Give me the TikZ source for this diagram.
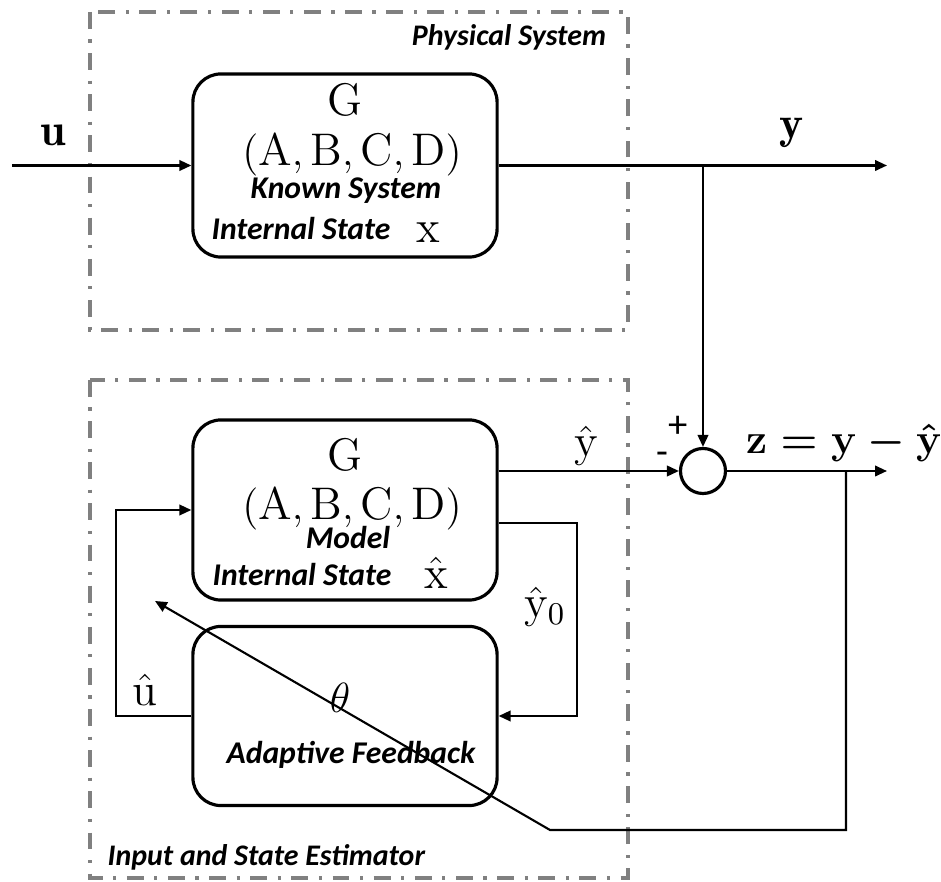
\documentclass[tikz,border=0pt]{standalone}
\usepackage{fontspec}
\newfontfamily\calibfont{Carlito}
\usetikzlibrary{arrows.meta,positioning,calc}

\begin{document}
\begin{tikzpicture}[
  x=0.01cm, y=-0.01cm,
  block/.style={draw, line width=0.9pt, rounded corners=0.28cm, minimum width=3.04cm, inner sep=0pt},
  frame/.style={draw=gray, line width=0.9pt, dash pattern=on 4.8pt off 3pt on 0.9pt off 3pt},
  sig/.style={line width=0.6pt, -{Triangle[length=3.4pt,width=3pt]}},
  mathlbl/.style={font=\fontsize{13}{15}\selectfont, inner sep=0pt},
  tag/.style={font=\calibfont\fontsize{9}{11}\selectfont\bfseries\itshape, inner sep=0pt},
  frametag/.style={font=\calibfont\fontsize{8.5}{10}\selectfont\bfseries\itshape, inner sep=0pt},
  signtag/.style={font=\calibfont\fontsize{11}{13}\selectfont, inner sep=0pt}
]
\useasboundingbox (0,0) rectangle (941,882);

% ---- Row positions (pixels from the top) ----
\def\yPlant{165.5}
\def\ySum{471}
\def\yModel{510}
\def\yAdapt{716}

% ---- Dash-dot frames ----
\draw[frame] (90,12) rectangle (628,330);
\node[frametag] (physlbl) at (509,37) {Physical System};
\draw[frame] (90,380) rectangle (628,878);
\node[frametag, anchor=west] (estlbl) at (107,857) {Input and State Estimator};

% ---- Blocks ----
\node[block, minimum height=1.83cm] (plant) at (345,\yPlant) {};
\node[block, minimum height=1.80cm] (model) at (345,\yModel) {};
\node[block, minimum height=1.79cm] (adapt) at (345,\yAdapt) {};
\node[draw, circle, line width=0.9pt, minimum size=0.45cm, inner sep=0pt] (sum) at (703,\ySum) {};

% ---- Block texts ----
\node[mathlbl] (plantG) at (345,100) {$\mathrm{G}$};
\node[mathlbl] (plantABCD) at (352,154) {$(\mathrm{A},\mathrm{B},\mathrm{C},\mathrm{D})$};
\node[tag] (plantname) at (346,191) {Known System};
\node[tag] (plantstate) at (301,229) {Internal State};
\node[mathlbl] (plantx) at (428,233) {$\mathrm{x}$};

\node[mathlbl] (modelG) at (345,455) {$\mathrm{G}$};
\node[mathlbl] (modelABCD) at (352,508) {$(\mathrm{A},\mathrm{B},\mathrm{C},\mathrm{D})$};
\node[tag] (modelname) at (348,538) {Model};
\node[tag] (modelstate) at (302,575) {Internal State};
\node[mathlbl] (modelx) at (436,573) {$\hat{\mathrm{x}}$};

\node[mathlbl] (theta) at (340,698) {$\theta$};
\node[tag] (adaptname) at (351,755) {Adaptive Feedback};

% ---- Signal ends and corners ----
\coordinate (uin) at (12,\yPlant);
\coordinate (yout) at (887,\yPlant);
\coordinate (ybr) at (sum |- plant.east);
\coordinate (zout) at (887,\ySum);
\coordinate (zbr) at (846,\ySum);
\coordinate (zknee) at (550,830);
\coordinate (ztip) at (155,601);
\coordinate (y0r) at (577,523);
\coordinate (ul) at (116,\yAdapt);

% ---- Physical system signals ----
\draw[sig] (uin) -- (plant.west);
\node[mathlbl] (ulbl) at (53,135) {$\mathbf{u}$};
\draw[sig] (plant.east) -- (yout);
\node[mathlbl] (ylbl) at (792,133) {$\mathbf{y}$};
\draw[sig] (ybr) -- (sum.north);
\node[signtag] (plus) at (678,427) {+};

% ---- Estimator signals ----
\draw[sig] (model.east |- sum.west) -- (sum.west);
\node[mathlbl] (yhatlbl) at (586,446) {$\hat{\mathrm{y}}$};
\node[signtag] (minus) at (662,458) {-};
\draw[sig] (sum.east) -- (zout);
\node[mathlbl, font=\fontsize{12}{14}\selectfont\boldmath] (zlbl) at (844,443) {$\mathbf{z}=\mathbf{y}-\hat{\mathbf{y}}$};
\draw[sig] (zbr) |- (zknee) -- (ztip);
\draw[sig] (model.east |- y0r) -- (y0r) |- (adapt.east);
\node[mathlbl] (y0lbl) at (545,607) {$\hat{\mathrm{y}}_{0}$};
\draw[sig] (adapt.west) -- (ul) |- (model.west);
\node[mathlbl] (uhatlbl) at (145,690) {$\hat{\mathrm{u}}$};

\end{tikzpicture}
\end{document}
